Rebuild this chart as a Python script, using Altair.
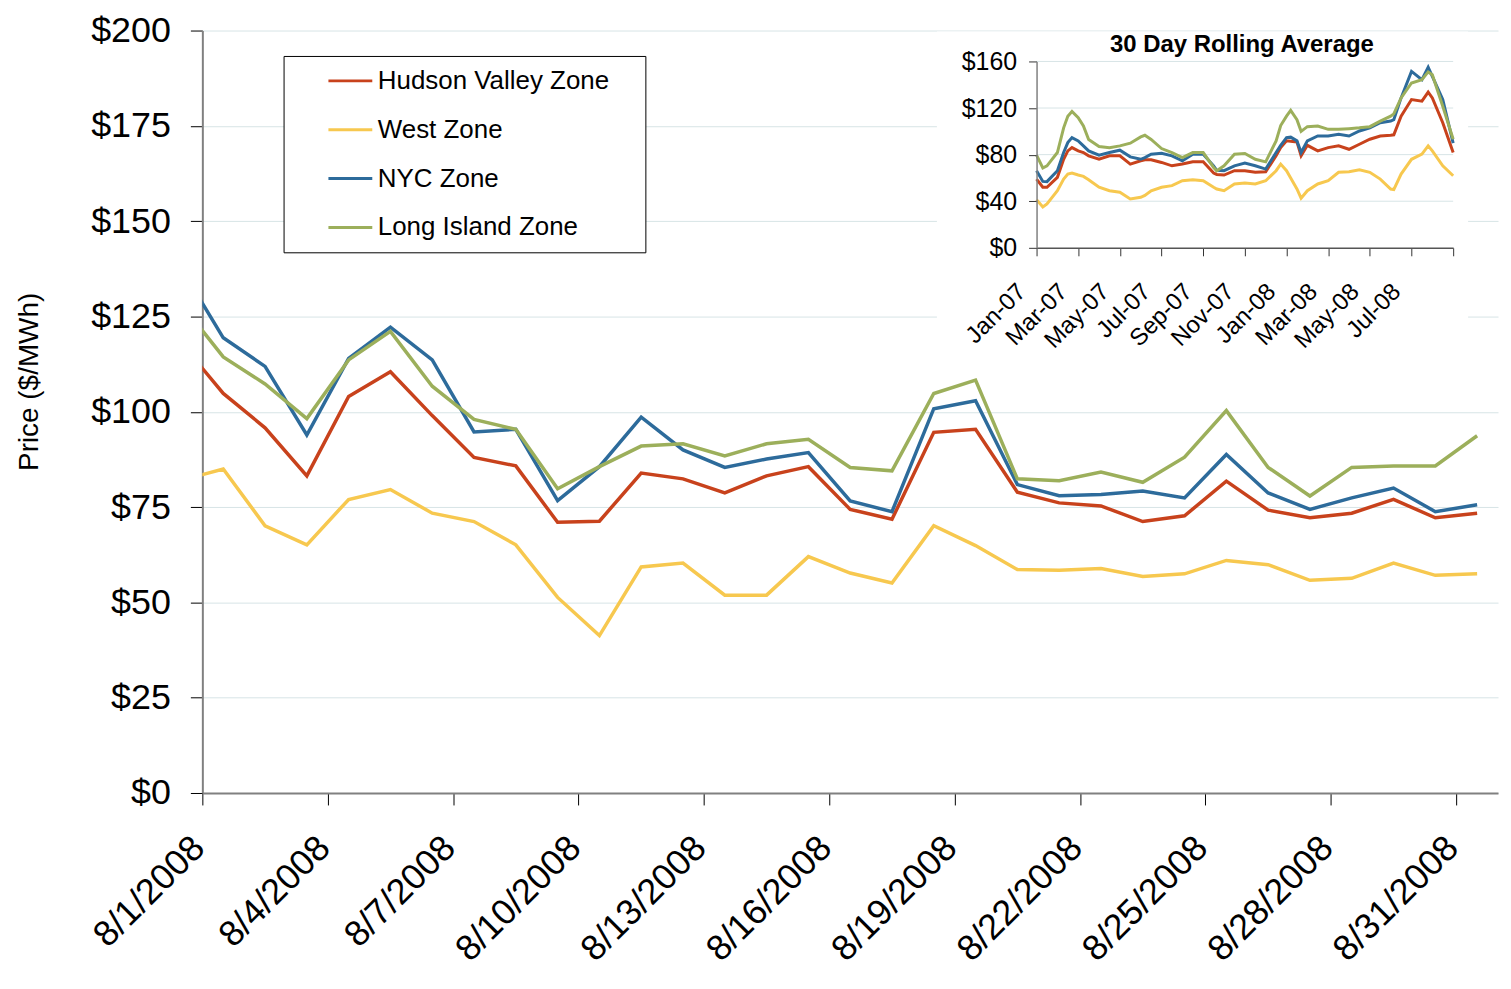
import json
import pandas as pd
import altair as alt

FONT = "Liberation Sans"

# ---------------- main chart data (August 2008, daily) ----------------
series_names = ["Hudson Valley Zone", "West Zone", "NYC Zone", "Long Island Zone"]
series_colors = ["#C8421C", "#F7C84F", "#2D6B9B", "#9CAF5B"]

# day 0 = 7/31/2008, days 1..31 = 8/1/2008 .. 8/31/2008
days = list(range(0, 32))
hudson = [118.0, 104.8, 95.8, 83.2, 104.0, 110.5, 99.0, 88.0, 85.8, 71.0, 71.3,
          83.9, 82.4, 78.7, 83.2, 85.6, 74.4, 71.8, 94.6, 95.4, 78.9,
          76.1, 75.3, 71.2, 72.7, 81.8, 74.2, 72.2, 73.4, 77.0, 72.2, 73.4]
west = [82.0, 85.0, 70.1, 65.1, 77.0, 79.6, 73.4, 71.2, 65.1, 51.3, 41.3,
        59.3, 60.3, 51.9, 51.9, 62.0, 57.7, 55.1, 70.1, 64.9, 58.6,
        58.4, 58.9, 56.8, 57.5, 61.0, 59.9, 55.8, 56.3, 60.3, 57.1, 57.5]
nyc = [137.6, 119.4, 111.9, 93.9, 114.0, 122.2, 113.6, 94.7, 95.4, 76.7, 85.6,
       98.6, 90.0, 85.4, 87.6, 89.3, 76.6, 73.8, 100.8, 102.9, 80.9,
       78.0, 78.3, 79.2, 77.4, 88.8, 78.7, 74.4, 77.4, 80.0, 73.8, 75.6]
long_island = [128.2, 114.4, 107.3, 98.2, 113.6, 121.1, 106.7, 98.0, 95.4, 79.8, 85.6,
               91.0, 91.6, 88.4, 91.6, 92.8, 85.4, 84.5, 104.8, 108.3, 82.4,
               81.9, 84.2, 81.5, 88.1, 100.3, 85.4, 77.9, 85.4, 85.8, 85.8, 93.7]

main_tick_values = [0.5, 3.5, 6.5, 9.5, 12.5, 15.5, 18.5, 21.5, 24.5, 27.5, 30.5]
main_tick_labels = ["8/1/2008", "8/4/2008", "8/7/2008", "8/10/2008", "8/13/2008",
                    "8/16/2008", "8/19/2008", "8/22/2008", "8/25/2008",
                    "8/28/2008", "8/31/2008"]
price_ticks = [0, 25, 50, 75, 100, 125, 150, 175, 200]

# ---------------- inset data (30 day rolling average) ----------------
# months since Jan-2007
inset_months = [0, 0.3, 0.5, 1, 1.3, 1.5, 1.7, 2, 2.25, 2.5,
                3, 3.5, 4, 4.5, 5, 5.2, 5.5, 6, 6.5, 7,
                7.5, 8, 8.5, 8.65, 9, 9.5, 10, 10.5, 11, 11.5,
                11.72, 12, 12.2, 12.5, 12.7, 13, 13.5, 14, 14.5, 15,
                15.5, 16, 16.5, 17, 17.15, 17.5, 18, 18.5, 18.8, 19,
                19.5, 20]
inset_li = [79.5, 68.5, 70.4, 81.8, 103, 113, 117, 111.7, 104.6, 93,
            87, 86, 87.5, 89.8, 95.2, 96.6, 93, 85.2, 81.8, 77.5,
            81.8, 81.8, 69, 66.2, 70.4, 80.4, 81, 76, 73.8, 91.8,
            105, 113, 118, 110, 100, 104, 104.6, 101.7, 101.7, 102.3,
            103, 104, 108.8, 113, 115, 128.7, 141.5, 144.4, 151, 148.6,
            121.6, 93.2]
inset_nyc = [66.2, 57, 56.8, 66.2, 81.8, 90.3, 94.6, 91.8, 87.5, 83.2,
             79.5, 81.8, 83.8, 78.1, 76, 77.5, 80.4, 81.2, 79, 74.7,
             80.4, 80.4, 70.4, 66.5, 66.2, 70.4, 72.7, 70.4, 67.6, 81.8,
             88, 94.6, 95, 91.8, 81.8, 91.8, 96, 96, 97.4, 96,
             100.3, 103, 107.4, 108.8, 110, 128.7, 151.5, 144.4, 155, 147.2,
             127.3, 89.8]
inset_hudson = [59, 52, 52, 60.5, 76, 83.2, 86, 83.2, 81.8, 79,
                76, 79, 79, 71.9, 74.7, 75.5, 75.5, 73.3, 70.4, 71.9,
                73.8, 73.8, 64.2, 63, 62.5, 66.2, 66.2, 64.8, 65.3, 79,
                86, 91.8, 91.5, 90.9, 79, 88, 83.2, 86, 87.5, 84.6,
                88.9, 93.2, 96, 96.6, 97, 113, 127.3, 125.9, 133.6, 128.7,
                107.4, 81.8]
inset_west = [41.4, 35, 37.7, 49, 59, 63.3, 64.2, 62.5, 61.3, 58.5,
              52, 49, 47.7, 42, 43.4, 45, 49, 52, 53.4, 57.6,
              58.5, 57.6, 52, 50.5, 49, 54.8, 55.6, 54.8, 57.6, 66.2,
              71.9, 66.2, 60, 50.5, 42.6, 49, 54.8, 57.6, 64.8, 65.3,
              67, 64.8, 59, 50.5, 50, 63.3, 76, 80.4, 87.5, 83.2,
              70.4, 61.9]

inset_tick_values = [0, 2, 4, 6, 8, 10, 12, 14, 16, 18, 20]
inset_tick_labels = ["Jan-07", "Mar-07", "May-07", "Jul-07", "Sep-07", "Nov-07",
                     "Jan-08", "Mar-08", "May-08", "Jul-08", ""]
inset_price_ticks = [0, 40, 80, 120, 160]
inset_grid_values = [40, 80, 120, 160]
inset_title = "30 Day Rolling Average"

# ---------------- tables ----------------
main_series = [hudson, west, nyc, long_island]
df_main = pd.DataFrame([
    {"day": d, "price": v, "zone": name}
    for name, vals in zip(series_names, main_series)
    for d, v in zip(days, vals)
])
inset_series = [inset_hudson, inset_west, inset_nyc, inset_li]
df_inset = pd.DataFrame([
    {"m": m, "price": v, "zone": name}
    for name, vals in zip(series_names, inset_series)
    for m, v in zip(inset_months, vals)
])
df_grid = pd.DataFrame({"g": inset_grid_values, "x0": [0] * 4, "x1": [20] * 4})
one = pd.DataFrame({"a": [0]})

W, H = 1300, 765
TOP = 21
GRID = "#D7E4E6"
DOMAIN = "#808080"
INSET_BOTTOM, INSET_TOP = 218, 31
INSET_LEFT, INSET_RIGHT = 837, 1255

color_scale = alt.Scale(domain=series_names, range=series_colors)

# ---------------- main layer ----------------
main_x_axis = alt.Axis(
    orient="bottom", values=main_tick_values,
    labelExpr=json.dumps(main_tick_labels) + "[round((datum.value - 0.5) / 3)]",
    labelAngle=315, labelAlign="right", labelBaseline="middle",
    labelPadding=37, labelOffset=-4, labelFontSize=36, labelColor="black",
    labelOverlap=False, labelBound=False, labelFlush=False,
    tickSize=12, tickColor="black", tickWidth=1,
    domainColor=DOMAIN, domainWidth=2, grid=False, title=None,
)
main_y_axis = alt.Axis(
    orient="left", values=price_ticks, labelExpr="'$' + datum.value",
    labelFontSize=36, labelColor="black", labelPadding=20,
    tickSize=12, tickColor="black", tickWidth=1,
    domainColor=DOMAIN, domainWidth=2,
    grid=True, gridColor=GRID, gridWidth=1,
    title="Price ($/MWh)", titleFontSize=28, titleFontWeight="normal",
    titleColor="black", titleX=-165, titleY=352, titleAngle=270,
    titleAlign="center", titleBaseline="alphabetic",
)

legend_box = alt.Chart(one).mark_rect(fill="white", stroke="black", strokeWidth=1).encode(
    x=alt.value(82), x2=alt.value(445), y=alt.value(26), y2=alt.value(223)
)

main_lines = alt.Chart(df_main).mark_line(strokeWidth=3.5, clip=True).encode(
    x=alt.X("day:Q", scale=alt.Scale(domain=[0.5, 31.5], nice=False, zero=False), axis=main_x_axis),
    y=alt.Y("price:Q", scale=alt.Scale(domain=[0, 200], nice=False), axis=main_y_axis),
    color=alt.Color("zone:N", scale=color_scale, sort=series_names,
                    legend=alt.Legend(
                        title=None, orient="none", legendX=125, legendY=27,
                        symbolType="stroke", symbolSize=1936, symbolStrokeWidth=3,
                        labelFontSize=26, labelOffset=4, labelLimit=500,
                        labelColor="black", rowPadding=12, padding=0,
                    )),
)

main = alt.layer(legend_box, main_lines)

# ---------------- inset layer ----------------
inset_x_scale = alt.Scale(domain=[0, 20], range=[INSET_LEFT, INSET_RIGHT], nice=False, zero=False)
inset_y_scale = alt.Scale(domain=[0, 160], range=[INSET_BOTTOM, INSET_TOP], nice=False)

inset_x_axis = alt.Axis(
    orient="bottom", offset=-(H - INSET_BOTTOM), values=inset_tick_values,
    labelExpr=json.dumps(inset_tick_labels) + "[round(datum.value / 2)]",
    labelAngle=315, labelAlign="right", labelBaseline="middle",
    labelPadding=32, labelOffset=-15, labelFontSize=24, labelColor="black",
    labelOverlap=False, labelBound=False, labelFlush=False,
    tickSize=8, tickColor="#333333", tickWidth=1,
    domainColor="#555555", domainWidth=1.5, grid=False, title=None, zindex=1,
)
inset_y_axis = alt.Axis(
    orient="left", offset=-INSET_LEFT, values=inset_price_ticks,
    labelExpr="'$' + datum.value", labelFontSize=25, labelColor="black",
    labelPadding=12, tickSize=8, tickColor="#333333", tickWidth=1,
    domainColor=DOMAIN, domainWidth=1.5, grid=False, title=None, zindex=1,
)

inset_bg = alt.Chart(one).mark_rect(fill="white", stroke=None).encode(
    x=alt.value(737), x2=alt.value(1270), y=alt.value(1), y2=alt.value(321)
)
inset_grid = alt.Chart(df_grid).mark_rule(color=GRID, strokeWidth=1).encode(
    x=alt.X("x0:Q", scale=inset_x_scale, axis=inset_x_axis),
    x2="x1:Q",
    y=alt.Y("g:Q", scale=inset_y_scale, axis=inset_y_axis),
)
inset_lines = alt.Chart(df_inset).mark_line(strokeWidth=3).encode(
    x=alt.X("m:Q", scale=inset_x_scale, axis=inset_x_axis),
    y=alt.Y("price:Q", scale=inset_y_scale, axis=inset_y_axis),
    color=alt.Color("zone:N", scale=color_scale, sort=series_names, legend=None),
)
inset_title_mark = alt.Chart(one).mark_text(
    text=inset_title, font=FONT, fontSize=24, fontWeight="bold",
    align="center", baseline="alphabetic", color="black",
).encode(x=alt.value(1043), y=alt.value(22))

inset = alt.layer(inset_bg, inset_grid, inset_lines, inset_title_mark)

chart = (
    alt.layer(main, inset)
    .resolve_scale(x="independent", y="independent")
    .resolve_axis(x="independent", y="independent")
    .properties(
        width=W, height=H,
        padding={"left": 195, "top": TOP, "right": 5, "bottom": 182},
        autosize=alt.AutoSizeParams(type="none"),
        background="white",
    )
    .configure(font=FONT)
    .configure_axis(labelFont=FONT, titleFont=FONT)
    .configure_legend(labelFont=FONT)
    .configure_view(stroke=None)
)

chart.save("out.html", embed_options={"renderer": "svg", "actions": False})
